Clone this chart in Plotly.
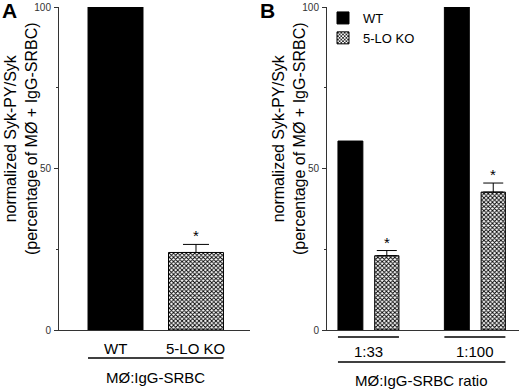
import plotly.graph_objects as go

# ---- data ----
a_categories = ["WT", "5-LO KO"]
a_values = [100, 24]
a_errors = [0, 2.5]
a_sig = [False, True]

b_categories = ["1:33", "1:100"]
b_wt_values = [58.5, 100]
b_ko_values = [23, 42.7]
b_ko_errors = [1.6, 2.8]
b_sig = [True, True]

y_ticks = [0, 50, 100]
y_minor = [25, 75]

a_group_label = "MØ:IgG-SRBC"
b_group_label = "MØ:IgG-SRBC ratio"
y_title = "normalized Syk-PY/Syk<br>(percentage of MØ + IgG-SRBC)"

# ---- layout helpers ----
W, H = 520, 389
def px(x):
    return x / W
def py(y):
    return 1 - y / H

FONT = "Liberation Sans, Arial, Helvetica, sans-serif"
AXC = "#333333"
pattern = dict(shape="x", size=3, solidity=0.5, fgcolor="black", bgcolor="white", fillmode="replace")

fig = go.Figure()

# Panel A
a_width = 0.683
fig.add_trace(go.Bar(
    x=a_categories[:1], y=a_values[:1], width=a_width,
    marker=dict(color="black", line=dict(color="black", width=1)),
    showlegend=False, xaxis="x", yaxis="y",
))
fig.add_trace(go.Bar(
    x=a_categories[1:], y=a_values[1:], width=a_width,
    marker=dict(color="white", line=dict(color="black", width=1), pattern=pattern),
    error_y=dict(type="data", symmetric=False, array=a_errors[1:], arrayminus=[0],
                 color="black", thickness=1, width=13, visible=True),
    showlegend=False, xaxis="x", yaxis="y",
))

# Panel B
wt_off, wt_w = -0.287, 0.234
ko_off, ko_w = 0.058, 0.228
fig.add_trace(go.Bar(
    x=b_categories, y=b_wt_values, name="WT", offset=wt_off, width=wt_w,
    marker=dict(color="black", line=dict(color="black", width=1)),
    xaxis="x2", yaxis="y2",
))
fig.add_trace(go.Bar(
    x=b_categories, y=b_ko_values, name="5-LO KO", offset=ko_off, width=ko_w,
    marker=dict(color="white", line=dict(color="black", width=1), pattern=pattern),
    error_y=dict(type="data", symmetric=False, array=b_ko_errors, arrayminus=[0] * len(b_ko_errors),
                 color="black", thickness=1, width=10, visible=True),
    xaxis="x2", yaxis="y2",
))

ydom = [py(330), py(7)]
common_x = dict(showticklabels=False, ticks="", showline=True, linecolor=AXC, linewidth=1,
                showgrid=False, zeroline=False, fixedrange=True, automargin=False)
common_y = dict(range=[0, 100], tickvals=y_ticks, ticks="outside", ticklen=4, tickwidth=1,
                tickcolor=AXC, showline=True, linecolor=AXC, linewidth=1, showgrid=False,
                zeroline=False, tickfont=dict(size=10, color="#333333", family=FONT),
                minor=dict(tickvals=y_minor, ticks="outside", ticklen=2, tickcolor=AXC),
                domain=ydom, ticklabelstandoff=1, automargin=False, fixedrange=True)

fig.update_layout(
    width=W, height=H, margin=dict(l=0, r=0, t=0, b=0, pad=0, autoexpand=False),
    paper_bgcolor="white", plot_bgcolor="white",
    font=dict(family=FONT, color="black"),
    barmode="overlay",
    xaxis=dict(domain=[px(59), px(250)], range=[-0.702, 1.671], anchor="y", **common_x),
    yaxis=dict(anchor="x", **common_y),
    xaxis2=dict(domain=[px(327), px(519)], range=[-0.390, 1.414], anchor="y2", **common_x),
    yaxis2=dict(anchor="x2", **common_y),
    legend=dict(x=px(323), y=py(3), xanchor="left", yanchor="top", bgcolor="rgba(0,0,0,0)",
                font=dict(size=13, family=FONT), tracegroupgap=0, itemwidth=30),
    showlegend=True,
)

ann = []
shapes = []

# y titles
for xpos in (21, 289):
    ann.append(dict(text=y_title, x=px(xpos), y=py(139), xref="paper", yref="paper",
                    textangle=-90, showarrow=False, font=dict(size=16), xanchor="center", yanchor="middle"))
# panel letters
ann.append(dict(text="<b>A</b>", x=px(0), y=py(-3), xref="paper", yref="paper", showarrow=False,
                xanchor="left", yanchor="top", font=dict(size=21)))
ann.append(dict(text="<b>B</b>", x=px(258), y=py(-3), xref="paper", yref="paper", showarrow=False,
                xanchor="left", yanchor="top", font=dict(size=21)))

# Panel A category labels, underline, group label
for i, c in enumerate(a_categories):
    ann.append(dict(text=c, x=i, y=py(348), xref="x", yref="paper", showarrow=False,
                    font=dict(size=15), yanchor="middle"))
shapes.append(dict(type="line", xref="x", yref="paper", x0=0 - a_width / 2, x1=len(a_categories) - 1 + a_width / 2,
                   y0=py(358), y1=py(358), line=dict(color="black", width=1.5)))
ann.append(dict(text=a_group_label, x=(len(a_categories) - 1) / 2, y=py(377), xref="x", yref="paper",
                showarrow=False, font=dict(size=15), yanchor="middle"))
for i, c in enumerate(a_categories):
    if a_sig[i]:
        ann.append(dict(text="*", x=i, y=a_values[i] + a_errors[i], xref="x", yref="y", showarrow=False,
                        yanchor="bottom", yshift=-2, font=dict(size=15)))

# Panel B group labels and lines
for i, c in enumerate(b_categories):
    ann.append(dict(text=c, x=i, y=py(351), xref="x2", yref="paper", showarrow=False,
                    font=dict(size=15), yanchor="middle"))
    shapes.append(dict(type="line", xref="x2", yref="paper", x0=i + wt_off, x1=i + ko_off + ko_w,
                       y0=py(337), y1=py(337), line=dict(color="black", width=1.5)))
    if b_sig[i]:
        ann.append(dict(text="*", x=i + ko_off + ko_w / 2, y=b_ko_values[i] + b_ko_errors[i], xref="x2", yref="y2",
                        showarrow=False, yanchor="bottom", yshift=-2, font=dict(size=15)))
shapes.append(dict(type="line", xref="x2", yref="paper", x0=wt_off, x1=len(b_categories) - 1 + ko_off + ko_w,
                   y0=py(362), y1=py(362), line=dict(color="black", width=1.5)))
ann.append(dict(text=b_group_label, x=(len(b_categories) - 1) / 2 + (wt_off + ko_off + ko_w) / 2,
                y=py(380), xref="x2", yref="paper", showarrow=False, font=dict(size=15), yanchor="middle"))

fig.update_layout(annotations=ann, shapes=shapes)
fig.write_html("out.html", config={"displayModeBar": False},
               post_script="document.body.style.margin='0';document.body.style.overflow='hidden';")
